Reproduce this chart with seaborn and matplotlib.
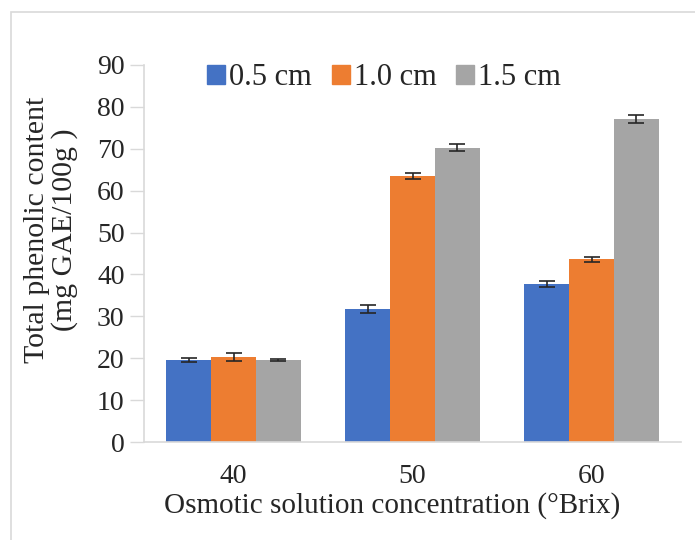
import matplotlib
matplotlib.use("Agg")
import matplotlib.pyplot as plt
import matplotlib.patches as mpatches
import seaborn as sns
import pandas as pd
import numpy as np

concentrations = ["40", "50", "60"]
thickness = ["0.5 cm", "1.0 cm", "1.5 cm"]
values_05 = [19.6, 31.7, 37.7]
values_10 = [20.4, 63.6, 43.6]
values_15 = [19.5, 70.3, 77.1]
errors_05 = [0.55, 0.9, 0.7]
errors_10 = [0.95, 0.7, 0.6]
errors_15 = [0.25, 0.9, 1.0]
colors = ["#4472C4", "#ED7D31", "#A5A5A5"]

vals = [values_05, values_10, values_15]
errs = [errors_05, errors_10, errors_15]
rows = []
for t, v, e in zip(thickness, vals, errs):
    for c, vi, ei in zip(concentrations, v, e):
        rows.append({"conc": c, "thick": t, "value": vi, "err": ei})
df = pd.DataFrame(rows)

sns.set_theme(style="white")
plt.rcParams["font.family"] = ["Liberation Serif", "DejaVu Serif"]

fig = plt.figure(figsize=(6.95, 5.4), dpi=100)
ax = fig.add_axes([144/695, 1-442/540, (681-144)/695, (442-65)/540])

sns.barplot(data=df, x="conc", y="value", hue="thick", order=concentrations,
            hue_order=thickness, palette=colors, width=0.75, errorbar=None,
            linewidth=0, saturation=1, ax=ax)

for cont, t in zip(ax.containers, thickness):
    sub = df[df["thick"] == t].set_index("conc").loc[concentrations]
    xs = [b.get_x() + b.get_width()/2 for b in cont]
    hs = [b.get_height() for b in cont]
    ax.errorbar(xs, hs, yerr=sub["err"].values, fmt="none", ecolor="#262626",
                elinewidth=1.2, capsize=6, capthick=1.2, zorder=5)

ax.set_ylim(0, 90)
ax.set_yticks(range(0, 91, 10))
ax.set_xlim(-0.5, 2.5)
ax.tick_params(axis="y", labelsize=20, length=10, width=1, color="#D9D9D9", pad=4, left=True)
ax.tick_params(axis="x", labelsize=20, length=0, pad=16)
for s in ["top", "right"]:
    ax.spines[s].set_visible(False)
for s in ["left", "bottom"]:
    ax.spines[s].set_color("#D9D9D9")
    ax.spines[s].set_linewidth(1.2)

ax.set_xlabel("Osmotic solution concentration (°Brix)", fontsize=21)
ax.xaxis.set_label_coords(0.462, -0.133)
ax.xaxis.label.set_va("top")
ax.set_ylabel("Total phenolic content\n(mg GAE/100g )", fontsize=21.5, linespacing=1.05)
ax.yaxis.set_label_coords(-0.123, 0.562)

handles = [mpatches.Patch(color=c) for c in colors]
ax.legend(handles, thickness, loc="center", bbox_to_anchor=(0.5525, 0.8556),
          bbox_transform=fig.transFigure, ncol=3, frameon=False, fontsize=22,
          handlelength=0.6, handleheight=0.6, handletextpad=0.12, columnspacing=0.65,
          borderaxespad=0)

rect = mpatches.Rectangle((11/695, -0.1), 1.2, 1-12/540+0.1, transform=fig.transFigure,
                          fill=False, edgecolor="#D9D9D9", linewidth=1.2)
fig.patches.append(rect)

fig.savefig("out.png", dpi=100)
